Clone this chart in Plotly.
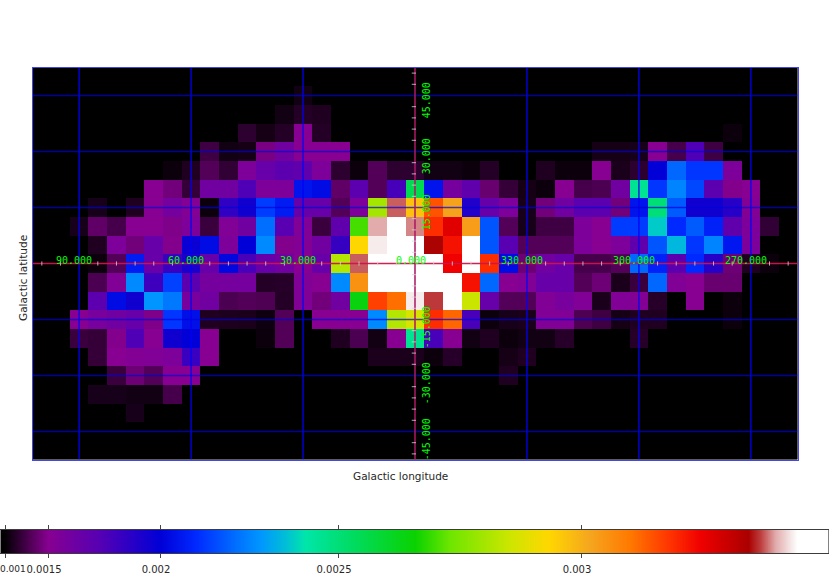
import numpy as np
import plotly.graph_objects as go

o = 0.90  # below the bottom of the colour scale (black)
longitudes = [100 - 5 * i for i in range(41)]
latitudes = [50 - 5 * i for i in range(21)]

lat_p50 = [o] * 41
lat_p45 = [o] * 14 + [1.05] + [o] * 26
lat_p40 = [o] * 13 + [1.05, 1.12, 1.10] + [o] * 25
lat_p35 = [o] * 11 + [1.15, 1.06, 1.12, 1.5, 1.12] + [o] * 21 + [1.03] + [o] * 3
lat_p30 = [o] * 9 + [1.22, 1.05, 1.06, 1.45, 1.6, 1.5, 1.5, 1.5] + [o] * 13 + [1.06, 1.06, 1.07, 1.5, 1.25, 1.75, 1.22] + [o] * 4
lat_p25 = [o] * 7 + [1.03, 1.1, 1.3, 1.17, 1.55, 1.65, 1.7, 1.68, 1.55, 1.15, 1.03, 1.3, 1.15, 1.15, 1.05, 1.05, 1.03, 1.12] + [o] * 2 + [1.1, 1.03, 1.03, 1.5, 1.08, 1.15, 2.0, 2.2, 2.12, 2.12, 1.55] + [o] * 3
lat_p20 = [o] * 6 + [1.5, 1.42, 1.18, 1.6, 1.6, 1.75, 1.55, 1.55, 2.05, 2.03, 1.35, 1.7, 1.3, 1.78, 2.55, 2.05, 1.58, 1.68, 1.38, 1.18, 1.06, 1.03, 1.5, 1.25, 1.27, 1.6, 2.45, 2.12, 2.25, 2.15, 1.7, 1.48, 1.5] + [o] * 2
lat_p15 = [o] * 3 + [1.07, o, 1.1, 1.5, 1.58, 1.52, 1.03, 1.85, 1.95, 2.13, 2.07, 1.65, 1.65, 1.3, 1.55, 2.8, 3.34, 2.97, 3.13, 3.02, 1.9, 1.65, 1.55, 1.07, 1.42, 1.6, 1.7, 1.7, 1.42, 2.05, 2.5, 2.18, 1.95, 1.95, 1.88, 1.52] + [o] * 2
lat_p10 = [o] * 2 + [1.07, 1.35, 1.25, 1.5, 1.5, 1.47, 1.55, 1.2, 1.53, 1.6, 2.21, 1.72, 1.53, 1.2, 1.68, 2.7, 3.36, 3.45, 3.35, 3.17, 3.24, 3.03, 2.17, 1.3, 1.07, 1.22, 1.22, 1.55, 1.5, 2.13, 2.13, 2.37, 2.1, 2.18, 2.08, 1.68, 1.55, 1.17, o]
lat_p05 = [o] * 3 + [1.1, 1.55, 1.42, 1.65, 1.48, 1.97, 2.03, 1.55, 2.0, 2.26, 1.48, 1.52, 1.6, 1.83, 2.93, 3.39, 3.45, 3.45, 3.31, 3.2, 3.45, 2.17, 1.72, 1.3, 1.3, 1.3, 1.55, 1.5, 1.55, 1.68, 2.17, 2.34, 2.12, 2.25, 2.06, 1.55] + [o] * 2
lat_000 = [o] * 3 + [1.03, 1.3, 2.07, 1.65, 1.82, 1.92, 1.65, 2.02, 1.77, 1.65, 1.6, 1.5, 1.65, 2.82, 3.34, 3.4, 3.45, 3.45, 3.45, 3.22, 3.45, 3.17, 2.03, 1.4, 1.6, 1.65, 1.25, 1.25, 1.3, 2.2, 2.08, 1.7, 2.1, 1.88, 1.4, 1.1, 1.03, o]
lat_m05 = [o] * 3 + [1.27, 1.53, 2.26, 1.8, 2.14, 1.7, 1.58, 1.58, 1.58, 1.12, 1.13, 1.53, 1.5, 2.26, 3.05, 3.45, 3.45, 3.45, 3.45, 3.45, 3.2, 2.2, 1.5, 1.53, 1.65, 1.65, 1.3, 1.4, 1.08, 1.2, 2.2, 1.53, 1.5, 1.38, 1.38] + [o] * 3
lat_m10 = [o] * 3 + [1.7, 2.03, 1.95, 2.28, 2.23, 1.57, 1.6, 1.27, 1.3, 1.28, 1.12, 1.53, 1.42, 1.6, 2.64, 3.15, 3.1, 3.39, 3.33, 3.45, 2.85, 1.65, 1.3, 1.3, 1.53, 1.57, 1.53, 1.08, 1.53, 1.52, 1.13, o, 1.5, o, 1.03] + [o] * 3
lat_m15 = [o] * 2 + [1.5, 1.57, 1.6, 1.65, 1.47, 2.12, 2.04, 1.1, 1.09, 1.08, 1.04, 1.3, o, 1.5, 1.5, 1.5, 2.26, 2.82, 2.87, 3.17, 3.11, 1.77, 1.03, 1.07, 1.08, 1.53, 1.53, 1.28, 1.22, 1.06, 1.1, 1.1] + [o] * 3 + [1.03] + [o] * 3
lat_m20 = [o] * 2 + [1.2, 1.18, 1.48, 1.75, 1.5, 1.95, 2.0, 1.5] + [o] * 2 + [1.03, 1.3] + [o] * 2 + [1.1, 1.27, 1.05, 1.5, 2.45, 1.77, 1.5, 1.05, 1.1, 1.03, 1.05, 1.05, 1.13] + [o] * 3 + [1.13] + [o] * 8
lat_m25 = [o] * 3 + [1.18, 1.5, 1.52, 1.53, 1.55, 1.82, 1.5] + [o] * 8 + [1.08, 1.08, 1.08, 1.03, 1.13] + [o] * 2 + [1.06, 1.1] + [o] * 14
lat_m30 = [o] * 4 + [1.2, 1.4, 1.3, 1.5, 1.5] + [o] * 16 + [1.1] + [o] * 15
lat_m35 = [o] * 3 + [1.07, 1.07, 1.05, 1.05, 1.25] + [o] * 33
lat_m40 = [o] * 5 + [1.07] + [o] * 35
lat_m45 = [o] * 41
lat_m50 = [o] * 41

z_milli = [lat_p50, lat_p45, lat_p40, lat_p35, lat_p30, lat_p25, lat_p20, lat_p15, lat_p10, lat_p05, lat_000,
           lat_m05, lat_m10, lat_m15, lat_m20, lat_m25, lat_m30, lat_m35, lat_m40, lat_m45, lat_m50]

# Colour bar: non-linear value scale (value in 1e-3 -> position along the bar)
bar_values = [0.90, 1.0, 1.5, 2.0, 2.5, 3.0, 3.4, 3.46]
bar_pos = [0, 5, 48, 160, 338, 581, 797, 828]
bar_tick_pos = [5, 48, 160, 338, 581]
bar_tick_text = ["", "0.0015", "0.002", "0.0025", "0.003"]
bar_first_label = "0.001"

color_stops = [
    (0, "rgb(0,0,0)"), (5, "rgb(5,0,5)"), (48, "rgb(135,0,145)"), (100, "rgb(85,0,180)"), (160, "rgb(0,0,215)"),
    (195, "rgb(0,40,255)"), (235, "rgb(0,110,255)"), (260, "rgb(0,150,255)"), (285, "rgb(0,190,215)"),
    (305, "rgb(0,230,170)"), (350, "rgb(0,220,100)"), (415, "rgb(10,210,0)"), (450, "rgb(110,230,0)"),
    (510, "rgb(205,230,0)"), (548, "rgb(255,215,0)"), (590, "rgb(245,165,30)"), (630, "rgb(255,120,0)"),
    (670, "rgb(255,50,0)"), (700, "rgb(240,0,0)"), (748, "rgb(170,0,0)"), (760, "rgb(190,60,60)"),
    (775, "rgb(225,170,170)"), (790, "rgb(245,230,230)"), (797, "rgb(255,255,255)"), (830, "rgb(255,255,255)"),
]
colorscale = [[p / 830, c] for p, c in color_stops]

lon_range = [102.5, -102.5]
lat_range = [-52.5, 52.5]
lon_grid = [90, 60, 30, -30, -60, -90]
lat_grid = [45, 30, 15, -15, -30, -45]
lon_label_x = [91.3, 61.3, 31.3, 1, -28.6, -58.6, -88.7]   # label anchor longitudes (signed)
lon_labels = ["90.000", "60.000", "30.000", "0.000", "330.000", "300.000", "270.000"]
lat_label_y = [43.8, 28.8, 13.8, -17, -32, -47]
lat_labels = ["45.000", "30.000", "15.000", "-15.000", "-30.000", "-45.000"]
lon_ticks = [l for l in range(100, -105, -5) if l % 30 != 0]
lat_ticks = [b for b in range(-51, 54, 3) if b % 15 != 0]

W, H = 830, 575
positions = np.interp(np.array(z_milli), bar_values, bar_pos)

fig = go.Figure()
fig.add_trace(go.Heatmap(x=longitudes, y=latitudes, z=positions, zmin=0, zmax=830, colorscale=colorscale,
                         showscale=False, xaxis="x", yaxis="y", hoverinfo="skip"))


def add_line(xs, ys, color, width):
    fig.add_trace(go.Scatter(x=xs, y=ys, mode="lines", xaxis="x", yaxis="y", hoverinfo="skip",
                             line=dict(color=color, width=width)))


for l in lon_grid:
    add_line([l, l], lat_range, "rgba(0,0,245,0.75)", 1.7)
for b in lat_grid:
    add_line(lon_range, [b, b], "rgba(0,0,220,0.7)", 1.5)
add_line(lon_range, [0, 0], "rgba(205,20,75,0.95)", 1.4)
add_line([0, 0], lat_range, "rgba(170,25,100,0.85)", 1.8)

fig.add_trace(go.Scatter(x=lon_ticks, y=[0] * len(lon_ticks), mode="markers", xaxis="x", yaxis="y", hoverinfo="skip",
                         marker=dict(symbol="line-ns", size=3, line=dict(color="rgba(215,215,215,0.8)", width=1))))
fig.add_trace(go.Scatter(x=[0.3] * len(lat_ticks), y=lat_ticks, mode="markers", xaxis="x", yaxis="y", hoverinfo="skip",
                         marker=dict(symbol="line-ew", size=3, line=dict(color="rgba(215,215,215,0.8)", width=1))))

bar_x = np.arange(1, 829, 1)
fig.add_trace(go.Heatmap(x=bar_x, y=[0, 1], z=[bar_x, bar_x], zmin=0, zmax=830, colorscale=colorscale,
                         showscale=False, xaxis="x2", yaxis="y2", hoverinfo="skip"))

annotations = []
label_font = dict(family="DejaVu Sans Mono", size=10, color="rgb(0,255,0)")
for x, t in zip(lon_label_x, lon_labels):
    annotations.append(dict(x=x, y=0.7, xref="x", yref="y", text=t, showarrow=False, font=label_font))
for y, t in zip(lat_label_y, lat_labels):
    annotations.append(dict(x=-3.3, y=y, xref="x", yref="y", text=t, textangle=-90, showarrow=False, font=label_font))
title_font = dict(family="DejaVu Sans", size=10.5, color="rgb(40,40,40)")
annotations.append(dict(x=400.5 / W, y=1 - 476 / H, xref="paper", yref="paper", xanchor="center", yanchor="middle",
                        text="Galactic longitude", showarrow=False, font=title_font))
annotations.append(dict(x=23 / W, y=1 - 278 / H, xref="paper", yref="paper", xanchor="center", yanchor="middle",
                        text="Galactic latitude", textangle=-90, showarrow=False, font=title_font))
annotations.append(dict(x=0, y=1 - 569 / H, xref="paper", yref="paper", xanchor="left", yanchor="middle", xshift=-2,
                        text=bar_first_label, showarrow=False,
                        font=dict(family="DejaVu Sans", size=9, color="rgb(40,40,40)")))

fig.update_layout(
    width=W, height=H, autosize=False, margin=dict(l=0, r=0, t=0, b=0),
    paper_bgcolor="white", plot_bgcolor="black", showlegend=False, annotations=annotations,
    font=dict(family="DejaVu Sans", size=10, color="rgb(40,40,40)"),
    xaxis=dict(domain=[32.5 / W, 797.5 / W], range=lon_range, showgrid=False, zeroline=False,
               showticklabels=False, ticks="", showline=True, mirror=True, linecolor="rgb(70,70,230)", linewidth=1,
               anchor="y"),
    yaxis=dict(domain=[115.5 / H, 507.5 / H], range=lat_range, showgrid=False, zeroline=False,
               showticklabels=False, ticks="", showline=True, mirror=True, linecolor="rgb(70,70,230)", linewidth=1,
               anchor="x"),
    xaxis2=dict(domain=[1 / W, 828 / W], range=[1, 828], showgrid=False, zeroline=False, tickmode="array",
                tickvals=bar_tick_pos, ticktext=bar_tick_text, ticks="outside", ticklen=4, tickcolor="rgb(70,70,70)",
                ticklabelshift=-4, ticklabelstandoff=3, tickfont=dict(size=10),
                showline=True, mirror="ticks", linecolor="rgb(60,60,60)", linewidth=1, anchor="y2"),
    yaxis2=dict(domain=[22 / H, 45 / H], range=[0, 1], showgrid=False, zeroline=False, showticklabels=False, ticks="",
                showline=True, mirror=True, linecolor="rgb(130,130,130)", linewidth=1, anchor="x2"),
)

fig.write_html("out.html", config={"displayModeBar": False}, post_script="document.body.style.margin='0';")
